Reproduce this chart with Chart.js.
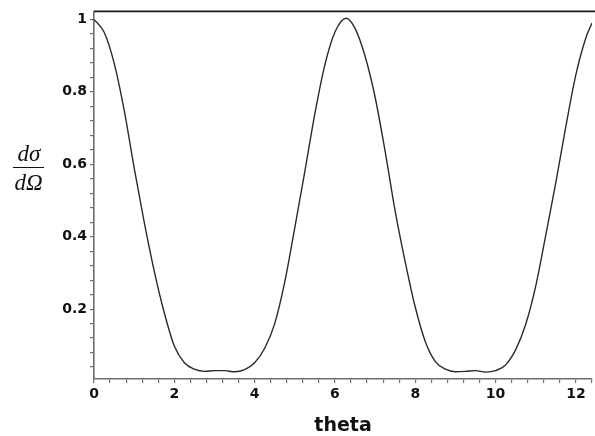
<!DOCTYPE html>
<html>
<head>
<meta charset="utf-8">
<script src="https://cdn.jsdelivr.net/npm/chart.js@4/dist/chart.umd.min.js"></script>
<style>
  html, body { margin: 0; padding: 0; background: #fff; }
  #wrap { position: relative; width: 595px; height: 436px; overflow: hidden; }
  #c { position: absolute; left: 0; top: 0; }
  .frac { position: absolute; font-family: "Liberation Serif", "DejaVu Serif", serif; font-style: italic; font-size: 23px; line-height: 23px; color: #111; white-space: nowrap; }
  #num { left: 14px; top: 142px; width: 30px; text-align: center; }
  #den { left: 13px; top: 171px; width: 31px; text-align: center; }
  #bar { position: absolute; left: 13px; top: 167px; width: 31px; height: 1px; background: #111; }
</style>
</head>
<body>
<div id="wrap">
  <canvas id="c" width="595" height="436"></canvas>
  <div class="frac" id="num">dσ</div>
  <div id="bar"></div>
  <div class="frac" id="den">dΩ</div>
</div>
<script>
// theta values (x) and dσ/dΩ values (y)
const theta = [0, 0.25, 0.5, 0.75, 1.0, 1.25, 1.5, 1.75, 2.0, 2.25, 2.5, 2.75, 3.0, 3.25, 3.5, 3.75,
  4.0, 4.25, 4.5, 4.75, 5.0, 5.25, 5.5, 5.75, 6.0, 6.28, 6.5, 6.75, 7.0, 7.25, 7.5, 7.75,
  8.0, 8.25, 8.5, 8.75, 9.0, 9.25, 9.5, 9.75, 10.0, 10.25, 10.5, 10.75, 11.0, 11.25, 11.5, 11.75,
  12.0, 12.25, 12.4];
const dsdo = [1.000, 0.965, 0.880, 0.750, 0.590, 0.440, 0.305, 0.190, 0.098, 0.052, 0.034, 0.028, 0.030, 0.030, 0.027, 0.033,
  0.052, 0.092, 0.160, 0.275, 0.425, 0.580, 0.740, 0.875, 0.965, 1.003, 0.975, 0.898, 0.785, 0.635, 0.470, 0.330,
  0.205, 0.110, 0.055, 0.034, 0.027, 0.028, 0.030, 0.026, 0.030, 0.046, 0.088, 0.158, 0.264, 0.405, 0.550, 0.705,
  0.848, 0.950, 0.990];
const xMajorLabels = [0, 2, 4, 6, 8, 10, 12];
const yMajorLabels = [0.2, 0.4, 0.6, 0.8, 1];

const points = theta.map((t, i) => ({x: t, y: dsdo[i]}));

const near = (v, list) => list.find(m => Math.abs(v - m) < 1e-6);

const topBorder = {
  id: 'topBorder',
  afterDraw(chart) {
    const {ctx, chartArea} = chart;
    ctx.save();
    ctx.strokeStyle = '#1a1a1a';
    ctx.lineWidth = 1.6;
    ctx.beginPath();
    ctx.moveTo(chartArea.left, chartArea.top);
    ctx.lineTo(chartArea.right + 5, chartArea.top);
    ctx.stroke();
    ctx.restore();
  }
};

const tickFont = {family: '"DejaVu Sans", sans-serif', size: 14, weight: 'bold'};

new Chart(document.getElementById('c'), {
  type: 'line',
  data: {
    datasets: [{
      data: points,
      borderColor: '#2a2a2a',
      borderWidth: 1.4,
      pointRadius: 0,
      cubicInterpolationMode: 'monotone',
      fill: false
    }]
  },
  options: {
    responsive: false,
    animation: false,
    events: [],
    layout: {padding: {top: 11, left: 0, right: 0, bottom: 0}},
    plugins: {legend: {display: false}, tooltip: {enabled: false}},
    scales: {
      x: {
        type: 'linear',
        min: 0,
        max: 12.4,
        afterFit(scale) { scale.height = 57; },
        border: {display: true, color: '#6e6e6e', width: 1.6},
        grid: {display: true, drawOnChartArea: false, drawTicks: true, tickLength: 4, color: '#6e6e6e', tickColor: '#6e6e6e', lineWidth: 1.2},
        ticks: {
          stepSize: 0.4,
          includeBounds: false,
          autoSkip: false,
          maxRotation: 0,
          padding: 3,
          color: '#111',
          font: tickFont,
          callback(v) { const m = near(v, xMajorLabels); return m === undefined ? '' : String(m); }
        },
        title: {display: true, text: 'theta', color: '#111',
          font: {family: '"DejaVu Sans", sans-serif', size: 19, weight: 'bold', lineHeight: 1.0},
          padding: {top: 0, bottom: 0}}
      },
      y: {
        type: 'linear',
        min: 0.007,
        max: 1.022,
        afterFit(scale) { scale.width = 94; },
        border: {display: true, color: '#6e6e6e', width: 1.6},
        grid: {display: true, drawOnChartArea: false, drawTicks: true, tickLength: 4, color: '#6e6e6e', tickColor: '#6e6e6e', lineWidth: 1.2},
        ticks: {
          stepSize: 0.04,
          includeBounds: false,
          autoSkip: false,
          padding: 3,
          color: '#111',
          font: tickFont,
          callback(v) { const m = near(v, yMajorLabels); return m === undefined ? '' : (m === 1 ? '1' : m.toFixed(1)); }
        }
      }
    }
  },
  plugins: [topBorder]
});
</script>
</body>
</html>
